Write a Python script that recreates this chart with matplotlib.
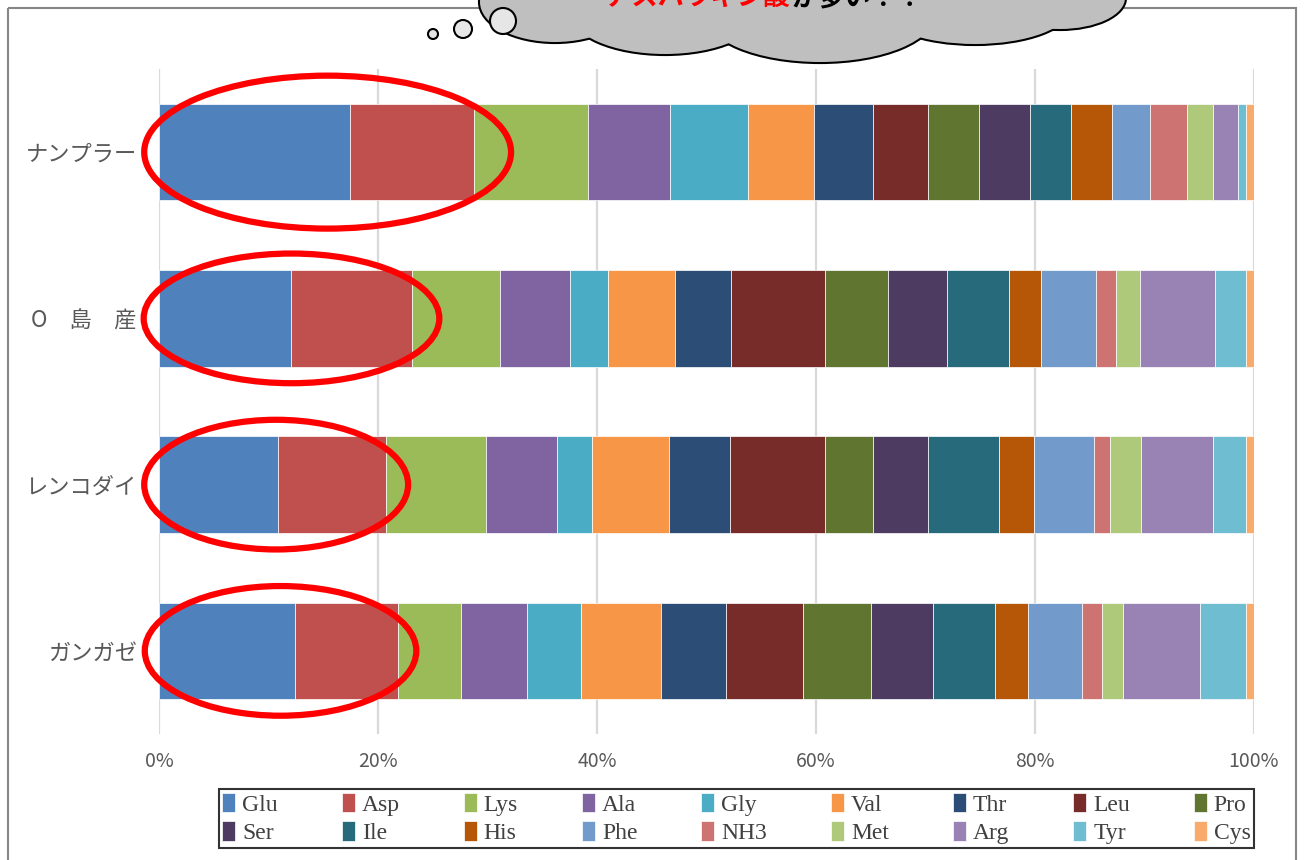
import matplotlib
matplotlib.use("Agg")
import matplotlib.pyplot as plt
from matplotlib.patches import Ellipse, Rectangle, Circle
import numpy as np

plt.rcParams['font.family'] = ['Noto Sans CJK JP', 'DejaVu Sans']

# samples (top to bottom) and amino acids (stack order)
samples = ['ナンプラー', 'O　島　産', 'レンコダイ', 'ガンガゼ']
amino_acids = ['Glu', 'Asp', 'Lys', 'Ala', 'Gly', 'Val', 'Thr', 'Leu', 'Pro',
               'Ser', 'Ile', 'His', 'Phe', 'NH3', 'Met', 'Arg', 'Tyr', 'Cys']

# composition in %
nampla = [17.4, 11.4, 10.4, 7.5, 7.1, 6.0, 5.4, 5.0, 4.7, 4.6, 3.8, 3.7, 3.5, 3.4, 2.4, 2.2, 0.8, 0.7]
o_shima = [12.1, 11.0, 8.1, 6.4, 3.4, 6.2, 5.1, 8.6, 5.7, 5.4, 5.7, 2.9, 5.1, 1.8, 2.2, 6.8, 2.9, 0.7]
renkodai = [10.9, 9.8, 9.1, 6.5, 3.2, 7.0, 5.6, 8.7, 4.3, 5.1, 6.4, 3.2, 5.5, 1.5, 2.8, 6.6, 3.0, 0.7]
gangaze = [12.4, 9.4, 5.7, 6.0, 4.9, 7.3, 5.9, 7.0, 6.2, 5.7, 5.6, 3.0, 4.9, 1.9, 1.9, 7.0, 4.2, 0.7]

colors = ['#4F81BD', '#C0504D', '#9BBB59', '#8064A2', '#4BACC6', '#F79646',
          '#2C4D75', '#772C2A', '#5F7530', '#4D3B62', '#276A7C', '#B65708',
          '#729ACA', '#CD7371', '#AFC97A', '#9983B5', '#6FBDD1', '#F9AB6B']

data = np.array([nampla, o_shima, renkodai, gangaze])
data = data / data.sum(axis=1, keepdims=True) * 100

W, H = 1309, 860
fig = plt.figure(figsize=(W / 100, H / 100), dpi=100)
ax = fig.add_axes([159 / W, 1 - 734 / H, 1095 / W, 665 / H])

ypos = np.arange(len(samples))
left = np.zeros(len(samples))
handles = []
for i, aa in enumerate(amino_acids):
    b = ax.barh(ypos, data[:, i], left=left, height=0.58, color=colors[i],
                edgecolor='white', linewidth=0.5, label=aa, zorder=3)
    handles.append(b)
    left += data[:, i]

ax.set_xlim(0, 100)
ax.set_ylim(len(samples) - 0.5, -0.5)
ax.set_xticks([0, 20, 40, 60, 80, 100])
ax.set_xticklabels([f'{v}%' for v in [0, 20, 40, 60, 80, 100]], fontsize=14, color='#595959')
ax.set_yticks(ypos)
ax.set_yticklabels(samples, fontsize=16, color='#595959')
ax.tick_params(length=0)
ax.tick_params(axis='x', pad=12)
ax.tick_params(axis='y', pad=16)
for s in ax.spines.values():
    s.set_visible(False)
ax.grid(axis='x', color='#D9D9D9', linewidth=1.6, zorder=0)
ax.set_axisbelow(True)

# red circles around Glu + Asp
rings = [(15.4, 0, 33.5, 0.92), (12.1, 1, 27.0, 0.78),
         (10.7, 2, 24.1, 0.78), (11.1, 3, 24.8, 0.78)]
for cx, cy, w, h in rings:
    ax.add_patch(Ellipse((cx, cy), w, h, fill=False, edgecolor='#FF0000',
                         linewidth=4.5, zorder=5, clip_on=False))

# legend: 2 rows x 9 columns, row-major order
order = [r * 9 + c for c in range(9) for r in range(2)]
leg = fig.legend([handles[k] for k in order], [amino_acids[k] for k in order],
                 ncol=9, loc='center', mode='expand',
                 bbox_to_anchor=(207 / W, 1 - 851 / H, 1059 / W, 65 / H),
                 prop={'family': 'Liberation Serif', 'size': 17},
                 frameon=True, fancybox=False, edgecolor='black',
                 handlelength=0.55, handleheight=0.9, handletextpad=0.3,
                 columnspacing=0.5, labelspacing=0.25, borderpad=0.15)
leg.get_frame().set_linewidth(1.5)
for t in leg.get_texts():
    t.set_color('#404040')

# overlay for chart frame and the thought cloud
ov = fig.add_axes([0, 0, 1, 1], zorder=10)
ov.set_xlim(0, W)
ov.set_ylim(H, 0)
ov.axis('off')
ov.add_patch(Rectangle((8, 8), 1288, 880, fill=False, edgecolor='#868686', linewidth=1.5))

lobes = [(555, 2, 150, 80), (665, 12, 190, 84), (820, 14, 230, 96),
         (975, 8, 190, 72), (1060, -2, 130, 62), (800, -20, 610, 70)]
for cx, cy, w, h in lobes:
    ov.add_patch(Ellipse((cx, cy), w, h, facecolor='#BFBFBF', edgecolor='black', linewidth=3))
for cx, cy, w, h in lobes:
    ov.add_patch(Ellipse((cx, cy), w, h, facecolor='#BFBFBF', edgecolor='none'))
for cx, cy, r in [(433, 34, 5), (463, 29, 9), (503, 21, 13)]:
    ov.add_patch(Circle((cx, cy), r, facecolor='#E6E6E6', edgecolor='black', linewidth=1.5))

ov.text(790, -2, 'アスパラギン酸', color='#FF0000', fontsize=19, fontweight='bold',
        ha='right', va='center')
ov.text(792, -2, 'が多い！！', color='black', fontsize=19, fontweight='bold',
        ha='left', va='center')

fig.savefig('out.png', dpi=100)
